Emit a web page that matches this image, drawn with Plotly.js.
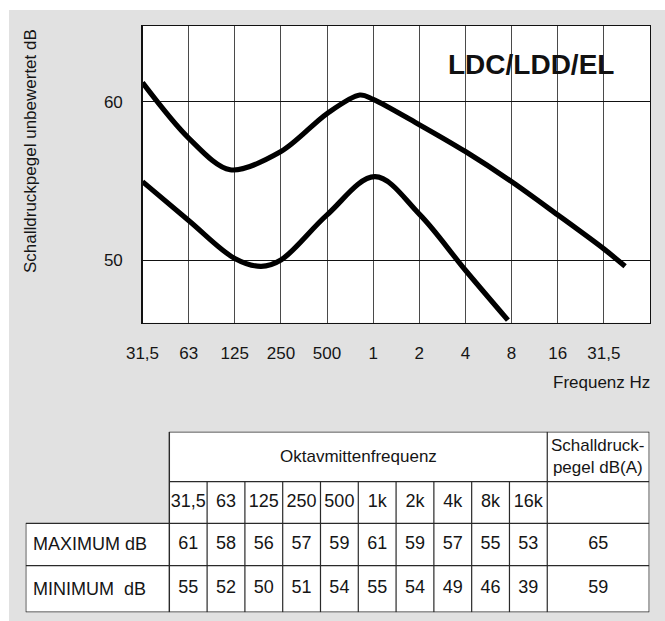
<!DOCTYPE html>
<html>
<head>
<meta charset="utf-8">
<script src="https://cdn.plot.ly/plotly-3.0.1.min.js"></script>
<style>
  html, body { margin: 0; padding: 0; background: #ffffff; }
  #chart { width: 665px; height: 621px; }
</style>
</head>
<body>
<div id="chart"></div>
<script>
// ---------- data ----------
const axisTickLabels = ['31,5', '63', '125', '250', '500', '1', '2', '4', '8', '16', '31,5'];
const axisTickIndex  = [0, 1, 2, 3, 4, 5, 6, 7, 8, 9, 10];

// curves (x = octave index, y = dB)
const maxCurveX = [0, 1, 1.9, 3, 4, 4.71, 5, 6, 7, 8, 9, 10, 10.46];
const maxCurveY = [61.2, 57.7, 55.7, 56.85, 59.25, 60.42, 60.15, 58.55, 56.85, 54.95, 52.85, 50.7, 49.6];
const minCurveX = [0, 1, 2, 2.57, 3, 4, 5.04, 6, 7, 7.92];
const minCurveY = [54.95, 52.5, 50.1, 49.6, 50.0, 52.85, 55.26, 52.9, 49.35, 46.2];

// table
const tableFreqLabels = ['31,5', '63', '125', '250', '500', '1k', '2k', '4k', '8k', '16k'];
const maximumValues = [61, 58, 56, 57, 59, 61, 59, 57, 55, 53];
const minimumValues = [55, 52, 50, 51, 54, 55, 54, 49, 46, 39];
const dbaValues = [65, 59];
const rowLabels = ['MAXIMUM dB', 'MINIMUM\u00a0 dB'];
const headerFreq = 'Oktavmittenfrequenz';
const headerDbA = 'Schalldruck-<br>pegel dB(A)';
const chartLabel = 'LDC/LDD/EL';
const yTitle = 'Schalldruckpegel unbewertet dB';
const xTitle = 'Frequenz Hz';

// ---------- layout constants ----------
const W = 665, H = 621;
const FONT = 'Liberation Sans, Arial, Helvetica, sans-serif';
const TXT = '#151515';
const px = v => v / W;
const py = v => 1 - v / H;

// table geometry in axis units (columns of the frequency block = 1 unit)
const labelColW = 3.8;
const nFreq = tableFreqLabels.length;
const dbaColW = 2.7;
const rowEdges = [0, 50, 91.6, 134, 180.6]; // header, freq row, max row, min row

const shapes = [];
// grey page background
shapes.push({type: 'rect', xref: 'paper', yref: 'paper', x0: px(9), x1: 1, y0: 0, y1: py(10),
  fillcolor: '#e1e1e1', line: {width: 0}, layer: 'below'});
// white plot area
shapes.push({type: 'rect', xref: 'x domain', yref: 'y domain', x0: 0, x1: 1, y0: 0, y1: 1,
  fillcolor: '#ffffff', line: {width: 0}, layer: 'below'});
// white table fills
shapes.push({type: 'rect', xref: 'x2', yref: 'y2', x0: 0, x1: nFreq + dbaColW, y0: rowEdges[0], y1: rowEdges[4],
  fillcolor: '#ffffff', line: {width: 0}, layer: 'below'});
shapes.push({type: 'rect', xref: 'x2', yref: 'y2', x0: -labelColW, x1: 0, y0: rowEdges[2], y1: rowEdges[4],
  fillcolor: '#ffffff', line: {width: 0}, layer: 'below'});

const LC = '#2a2a2a';
function hline(y, xa, xb, w) {
  shapes.push({type: 'line', xref: 'x2', yref: 'y2', x0: xa, x1: xb, y0: y, y1: y, line: {color: LC, width: w || 1.2}});
}
function vline(x, ya, yb, w) {
  shapes.push({type: 'line', xref: 'x2', yref: 'y2', x0: x, x1: x, y0: ya, y1: yb, line: {color: LC, width: w || 1.2}});
}
const xRight = nFreq + dbaColW;
hline(rowEdges[0], 0, xRight, 1.4);
hline(rowEdges[1], 0, xRight);
hline(rowEdges[2], -labelColW, xRight);
hline(rowEdges[3], -labelColW, xRight);
hline(rowEdges[4], -labelColW, xRight, 1.4);
vline(-labelColW, rowEdges[2], rowEdges[4], 1.4);
vline(0, rowEdges[0], rowEdges[4], 1.4);
for (let i = 1; i < nFreq; i++) vline(i, rowEdges[1], rowEdges[4]);
vline(nFreq, rowEdges[0], rowEdges[4]);
vline(xRight, rowEdges[0], rowEdges[4], 1.4);

const mid = (a, b) => (a + b) / 2;
const annotations = [];
annotations.push({xref: 'paper', yref: 'paper', x: px(31), y: py(151), text: yTitle, textangle: -90,
  showarrow: false, font: {family: FONT, size: 17, color: TXT}, xanchor: 'center', yanchor: 'middle'});
annotations.push({xref: 'paper', yref: 'paper', x: px(652), y: py(382.5), text: xTitle,
  showarrow: false, font: {family: FONT, size: 17, color: TXT}, xanchor: 'right', yanchor: 'middle'});
annotations.push({xref: 'x', yref: 'y', x: 8.42, y: 62.35, text: '<b>' + chartLabel + '</b>',
  showarrow: false, font: {family: FONT, size: 28, color: '#111'}, xanchor: 'center', yanchor: 'middle'});
annotations.push({xref: 'x2', yref: 'y2', x: nFreq / 2, y: mid(rowEdges[0], rowEdges[1]), text: headerFreq,
  showarrow: false, font: {family: FONT, size: 17, color: TXT}});
annotations.push({xref: 'x2', yref: 'y2', x: nFreq + dbaColW / 2, y: mid(rowEdges[0], rowEdges[1]), text: headerDbA,
  showarrow: false, font: {family: FONT, size: 17, color: TXT}});
rowLabels.forEach((t, r) => {
  annotations.push({xref: 'x2', yref: 'y2', x: -labelColW + 0.13, y: mid(rowEdges[r + 2], rowEdges[r + 3]), text: t,
    showarrow: false, xanchor: 'left', font: {family: FONT, size: 18, color: TXT}});
});

// table cell texts through the x2/y2 scales
const cellX = [], cellY = [], cellT = [];
tableFreqLabels.forEach((t, i) => { cellX.push(i + 0.5); cellY.push(mid(rowEdges[1], rowEdges[2])); cellT.push(t); });
maximumValues.forEach((v, i) => { cellX.push(i + 0.5); cellY.push(mid(rowEdges[2], rowEdges[3])); cellT.push(String(v)); });
minimumValues.forEach((v, i) => { cellX.push(i + 0.5); cellY.push(mid(rowEdges[3], rowEdges[4])); cellT.push(String(v)); });
dbaValues.forEach((v, r) => { cellX.push(nFreq + dbaColW / 2); cellY.push(mid(rowEdges[r + 2], rowEdges[r + 3])); cellT.push(String(v)); });

const traces = [
  {x: maxCurveX, y: maxCurveY, type: 'scatter', mode: 'lines', xaxis: 'x', yaxis: 'y',
   line: {color: '#000', width: 5.2, shape: 'spline', smoothing: 0.9}, hoverinfo: 'skip'},
  {x: minCurveX, y: minCurveY, type: 'scatter', mode: 'lines', xaxis: 'x', yaxis: 'y',
   line: {color: '#000', width: 5.2, shape: 'spline', smoothing: 1}, hoverinfo: 'skip'},
  {x: cellX, y: cellY, text: cellT, type: 'scatter', mode: 'text', xaxis: 'x2', yaxis: 'y2',
   textposition: 'middle center', textfont: {family: FONT, size: 18, color: TXT}, hoverinfo: 'skip', cliponaxis: false}
];

const layout = {
  width: W, height: H, autosize: false,
  margin: {l: 0, r: 0, t: 0, b: 0, pad: 0},
  paper_bgcolor: '#ffffff', plot_bgcolor: 'rgba(0,0,0,0)',
  showlegend: false,
  font: {family: FONT, size: 17, color: TXT},
  xaxis: {
    domain: [px(142.5), px(650)], range: [0, 11], anchor: 'y',
    tickmode: 'array', tickvals: axisTickIndex, ticktext: axisTickLabels,
    showgrid: true, gridcolor: '#4a4a4a', gridwidth: 1, zeroline: false,
    showline: true, mirror: true, linecolor: '#111', linewidth: 1.3,
    ticks: '', ticklabelstandoff: 15, tickfont: {family: FONT, size: 17, color: TXT}, fixedrange: true
  },
  yaxis: {
    domain: [py(322.7), py(26)], range: [46.04, 64.78], anchor: 'x',
    tickmode: 'array', tickvals: [50, 60], ticktext: ['50', '60'],
    showgrid: true, gridcolor: '#111', gridwidth: 1, zeroline: false,
    showline: true, mirror: true, linecolor: '#111', linewidth: 1.3,
    ticks: '', ticklabelstandoff: 15, tickfont: {family: FONT, size: 17, color: TXT}, fixedrange: true
  },
  xaxis2: {domain: [px(25.7), px(649.3)], range: [-labelColW, nFreq + dbaColW], anchor: 'y2', visible: false, fixedrange: true},
  yaxis2: {domain: [py(612.3), py(431.7)], range: [rowEdges[4], rowEdges[0]], anchor: 'x2', visible: false, fixedrange: true},
  shapes: shapes,
  annotations: annotations
};

Plotly.newPlot('chart', traces, layout, {displayModeBar: false, staticPlot: true});
</script>
</body>
</html>
